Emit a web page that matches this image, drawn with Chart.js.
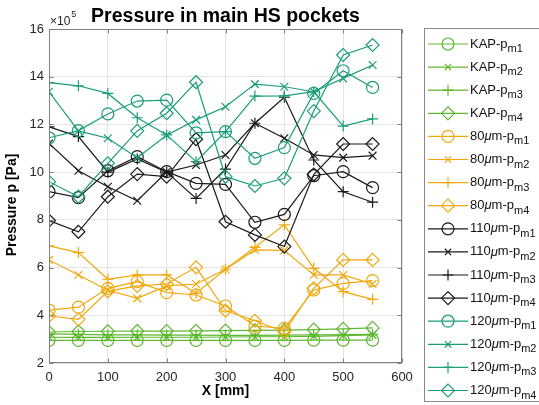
<!DOCTYPE html>
<html>
<head>
<meta charset="utf-8">
<title>Pressure in main HS pockets</title>
<script src="https://cdn.jsdelivr.net/npm/chart.js@4.4.1/dist/chart.umd.min.js"></script>
<style>
  html, body { margin: 0; padding: 0; background: #fff; }
  #wrap { width: 539px; height: 405px; }
</style>
</head>
<body>
<div id="wrap"><canvas id="pressureChart" width="539" height="405"></canvas></div>
<script>
// Positions along the pocket, X [mm].
var xPositions = [0, 50, 100, 150, 200, 250, 300, 350, 400, 450, 500, 550];

// Pressure, in units of 10^5 Pa.
var kapPm1 = [2.95, 2.95, 2.95, 2.95, 2.95, 2.95, 2.95, 2.95, 2.95, 2.96, 2.96, 2.96];
var kapPm2 = [3.08, 3.07, 3.07, 3.08, 3.08, 3.08, 3.09, 3.1, 3.1, 3.12, 3.15, 3.18];
var kapPm3 = [3.22, 3.2, 3.18, 3.18, 3.17, 3.17, 3.16, 3.16, 3.17, 3.18, 3.19, 3.2];
var kapPm4 = [3.3, 3.32, 3.33, 3.34, 3.34, 3.35, 3.36, 3.37, 3.38, 3.4, 3.43, 3.47];

var p80Pm1 = [4.22, 4.34, 5.13, 5.41, 4.95, 4.85, 4.39, 3.55, 3.45, 5.06, 5.34, 5.45];
var p80Pm2 = [6.32, 5.69, 5.05, 4.71, 5.23, 5.31, 5.93, 6.74, 6.72, 5.69, 5.69, 5.31];
var p80Pm3 = [6.91, 6.63, 5.51, 5.69, 5.69, 4.92, 5.93, 6.85, 7.79, 5.97, 4.99, 4.67];
var p80Pm4 = [3.97, 3.83, 5.0, 5.23, 5.31, 6.01, 4.2, 3.77, 3.31, 5.13, 6.32, 6.32];

var p110Pm1 = [9.18, 8.93, 10.06, 10.65, 10.02, 9.53, 9.49, 7.9, 8.23, 9.85, 10.02, 9.35];
var p110Pm2 = [11.2, 10.06, 9.39, 8.8, 10.0, 10.3, 10.72, 12.05, 11.42, 10.72, 10.61, 10.69];
var p110Pm3 = [11.9, 11.49, 10.0, 10.55, 10.0, 8.9, 10.13, 12.05, 13.14, 10.51, 9.18, 8.74];
var p110Pm4 = [7.97, 7.5, 8.97, 9.92, 9.81, 11.38, 7.92, 7.37, 6.88, 9.9, 11.18, 11.18];

var p120Pm1 = [11.44, 11.74, 12.44, 12.98, 13.02, 11.65, 11.7, 10.58, 11.03, 13.3, 14.25, 13.55];
var p120Pm2 = [13.37, 11.73, 11.42, 10.6, 11.55, 12.19, 12.74, 13.69, 13.58, 13.37, 13.93, 14.49];
var p120Pm3 = [13.75, 13.62, 13.3, 12.28, 11.56, 10.44, 11.7, 13.19, 13.2, 13.37, 11.93, 12.23];
var p120Pm4 = [9.6, 8.97, 10.37, 11.73, 12.47, 13.77, 9.81, 9.42, 9.74, 12.56, 14.91, 15.33];

var yTicks = [2, 4, 6, 8, 10, 12, 14, 16];
var xTicks = [0, 100, 200, 300, 400, 500, 600];

var groupNames = ["KAP", "80", "110", "120"];
var pocketNames = ["m1", "m2", "m3", "m4"];
var groupColors = ["#5fb830", "#f0a80e", "#1a1a1a", "#1b9e77"];
var seriesValues = [
    [kapPm1, kapPm2, kapPm3, kapPm4],
    [p80Pm1, p80Pm2, p80Pm3, p80Pm4],
    [p110Pm1, p110Pm2, p110Pm3, p110Pm4],
    [p120Pm1, p120Pm2, p120Pm3, p120Pm4]
];

var markerStyles = ["circle", "crossRot", "cross", "rectRot"];
var markerSizes = [6, 5.5, 5.5, 6.5];
var fontFamily = "'Liberation Sans', Arial, Helvetica, sans-serif";
var textColor = "#262626";

// Build one dataset per group and pocket.
var datasets = [];
for (var g = 0; g < seriesValues.length; ++g)
    for (var p = 0; p < 4; ++p) {
        var points = [];
        for (var i = 0; i < xPositions.length; ++i)
            points.push({ x: xPositions[i], y: seriesValues[g][p][i] });
        datasets.push({
            label: groupNames[g] + "-p" + pocketNames[p],
            data: points,
            borderColor: groupColors[g],
            backgroundColor: "rgba(0,0,0,0)",
            borderWidth: 1.2,
            pointStyle: markerStyles[p],
            pointRadius: markerSizes[p],
            pointBorderWidth: 1.2,
            pointBorderColor: groupColors[g],
            pointBackgroundColor: "rgba(0,0,0,0)",
            tension: 0,
            order: 20 - datasets.length
        });
    }

// Draws a legend label with italic mu and a subscript.
function drawLegendLabel(ctx, g, p, x, y) {
    var parts;
    if (g === 0)
        parts = [["KAP-p", "normal"]];
    else
        parts = [[groupNames[g], "normal"], ["\u03bc", "italic"], ["m-p", "normal"]];
    for (var k = 0; k < parts.length; ++k) {
        ctx.font = (parts[k][1] === "italic" ? "italic " : "") + "13px " + fontFamily;
        ctx.fillText(parts[k][0], x, y);
        x += ctx.measureText(parts[k][0]).width;
    }
    ctx.font = "11px " + fontFamily;
    ctx.fillText(pocketNames[p], x, y + 5);
}

var decorations = {
    id: "decorations",
    afterDraw: function(chart) {
        var ctx = chart.ctx;
        var area = chart.chartArea;
        var xs = chart.scales.x;
        var ys = chart.scales.y;
        ctx.save();

        // Axes box and inward tick marks.
        ctx.strokeStyle = "#7f7f7f";
        ctx.lineWidth = 1;
        var l = Math.round(area.left) + 0.5, r = Math.round(area.right) - 0.5;
        var t = Math.round(area.top) + 0.5, b = Math.round(area.bottom) - 0.5;
        ctx.strokeRect(l, t, r - l, b - t);
        ctx.beginPath();
        for (var i = 0; i < yTicks.length; ++i) {
            var py = Math.round(ys.getPixelForValue(yTicks[i])) + 0.5;
            ctx.moveTo(l, py); ctx.lineTo(l + 4, py);
            ctx.moveTo(r, py); ctx.lineTo(r - 4, py);
        }
        for (var i = 0; i < xTicks.length; ++i) {
            var px = Math.round(xs.getPixelForValue(xTicks[i])) + 0.5;
            ctx.moveTo(px, b); ctx.lineTo(px, b - 4);
            ctx.moveTo(px, t); ctx.lineTo(px, t + 4);
        }
        ctx.stroke();

        // Title, exponent and axis labels.
        ctx.fillStyle = "#000";
        ctx.textBaseline = "middle";
        ctx.textAlign = "center";
        ctx.font = "bold 19.5px " + fontFamily;
        ctx.fillText("Pressure in main HS pockets", (area.left + area.right) / 2, 17);

        ctx.fillStyle = textColor;
        ctx.textAlign = "left";
        ctx.font = "12px " + fontFamily;
        ctx.fillText("\u00d710", 50, 22);
        var ew = ctx.measureText("\u00d710").width;
        ctx.font = "9px " + fontFamily;
        ctx.fillText("5", 50 + ew + 1, 15);

        ctx.fillStyle = "#000";
        ctx.textAlign = "center";
        ctx.font = "bold 14px " + fontFamily;
        ctx.fillText("X [mm]", (area.left + area.right) / 2, 391);
        ctx.save();
        ctx.translate(12, 205);
        ctx.rotate(-Math.PI / 2);
        ctx.fillText("Pressure p [Pa]", 0, 0);
        ctx.restore();

        // Legend box with markers.
        ctx.fillStyle = "#fff";
        ctx.fillRect(424.5, 28.5, 130, 373);
        ctx.strokeStyle = "#8a8a8a";
        ctx.strokeRect(424.5, 28.5, 130, 373);
        ctx.textAlign = "left";
        for (var g = 0; g < 4; ++g)
            for (var p = 0; p < 4; ++p) {
                var row = g * 4 + p;
                var ry = 44 + row * 23.1;
                ctx.strokeStyle = groupColors[g];
                ctx.lineWidth = 1.2;
                ctx.beginPath();
                ctx.moveTo(428, ry); ctx.lineTo(468, ry);
                ctx.stroke();
                ctx.fillStyle = "rgba(0,0,0,0)";
                Chart.helpers.drawPoint(ctx, {
                    pointStyle: markerStyles[p],
                    radius: p === 1 ? 4.5 : markerSizes[p],
                    rotation: 0,
                    borderWidth: 1.2
                }, 448, ry);
                ctx.fillStyle = "#111";
                drawLegendLabel(ctx, g, p, 470, ry);
            }
        ctx.restore();
    }
};

var context = document.getElementById("pressureChart").getContext("2d");
var pressureChart = new Chart(context, {
    type: "line",
    data: { datasets: datasets },
    options: {
        responsive: false,
        animation: false,
        devicePixelRatio: 1,
        layout: { padding: { left: 0, right: 137, top: 29, bottom: 0 } },
        plugins: {
            legend: { display: false },
            tooltip: { enabled: false },
            title: { display: false }
        },
        scales: {
            x: {
                type: "linear",
                min: 0,
                max: 600,
                afterFit: function(scale) { scale.height = 42; },
                afterBuildTicks: function(scale) {
                    scale.ticks = xTicks.map(function(v) { return { value: v }; });
                },
                ticks: {
                    padding: 7,
                    color: textColor,
                    font: { family: fontFamily, size: 13 },
                    maxRotation: 0
                },
                grid: { color: "#e3e3e3", drawTicks: false },
                border: { display: false }
            },
            y: {
                type: "linear",
                min: 2,
                max: 16,
                afterFit: function(scale) { scale.width = 49; },
                afterBuildTicks: function(scale) {
                    scale.ticks = yTicks.map(function(v) { return { value: v }; });
                },
                ticks: {
                    padding: 5,
                    color: textColor,
                    font: { family: fontFamily, size: 13 }
                },
                grid: { color: "#e3e3e3", drawTicks: false },
                border: { display: false }
            }
        }
    },
    plugins: [decorations]
});
</script>
</body>
</html>
